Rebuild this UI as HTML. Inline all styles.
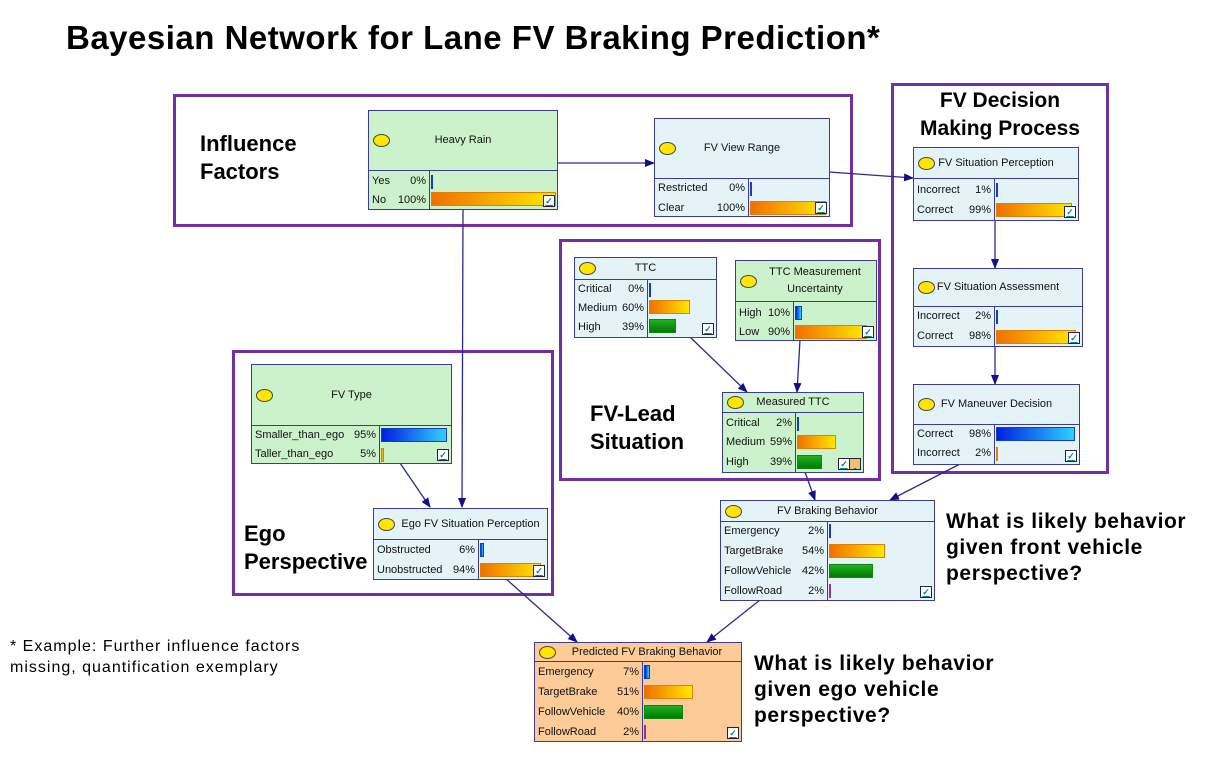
<!DOCTYPE html>
<html><head><meta charset="utf-8"><style>
body{margin:0;width:1215px;height:766px;background:#fff;position:relative;overflow:hidden;font-family:"Liberation Sans",sans-serif}
.t{position:absolute;font-weight:bold;color:#000}
.box{position:absolute;border:3px solid #7030a0;box-sizing:border-box}
.n{position:absolute;border:1.5px solid #3c3c96;box-sizing:border-box;font-size:11px;color:#111}
.g{background:#ccf2cc}.bl{background:#e3f3f8}.or{background:#fccb98}
.h{position:absolute;left:0;top:0;right:0;border-bottom:1.5px solid #3c3c96;display:flex;align-items:center;justify-content:center;text-align:center;line-height:17px}
.e{position:absolute;left:4px;width:15px;height:11px;border:1px solid #444;border-radius:50%;background:#ffe600}
.lc{position:absolute;left:0;bottom:0;border-right:1.5px solid #3c3c96}
.r{position:absolute;left:3px;height:14px;line-height:14px}
.r span{float:right}
.b{position:absolute;height:14px;box-sizing:border-box}
.o{background:linear-gradient(to right,#f07000,#ffe800);border:1px solid #e08000}
.gr{background:linear-gradient(to bottom,#20b020,#007a00);border:1px solid #0a8a0a}
.bb{background:linear-gradient(to right,#0020e0,#30d0ff);border:1px solid #1040c0}
.c{position:absolute;right:2px;bottom:2px;width:10px;height:10px;border:1px solid #224;background:#fff;font-size:9px;line-height:10px;text-align:center;color:#088;font-weight:bold}
</style></head><body>
<div class="t" style="left:66px;top:19px;font-size:33px;letter-spacing:0.5px">Bayesian Network for Lane FV Braking Prediction*</div>
<div class="box" style="left:173px;top:94px;width:680px;height:133px"></div>
<div class="box" style="left:891px;top:83px;width:218px;height:391px"></div>
<div class="box" style="left:559px;top:239px;width:322px;height:242px"></div>
<div class="box" style="left:232px;top:350px;width:322px;height:246px"></div>
<div class="t" style="left:200px;top:130px;font-size:22px;line-height:28px">Influence<br>Factors</div>
<div class="t" style="left:891px;top:87px;width:218px;text-align:center;font-size:21px;line-height:28px">FV Decision<br>Making Process</div>
<div class="t" style="left:590px;top:400px;font-size:22px;line-height:28px">FV-Lead<br>Situation</div>
<div class="t" style="left:244px;top:520px;font-size:22px;line-height:28px">Ego<br>Perspective</div>
<div class="t" style="left:946px;top:509px;font-size:21px;letter-spacing:0.6px;line-height:26px">What is likely behavior<br>given front vehicle<br>perspective?</div>
<div class="t" style="left:754px;top:651px;font-size:21px;letter-spacing:0.6px;line-height:26px">What is likely behavior<br>given ego vehicle<br>perspective?</div>
<div style="position:absolute;left:10px;top:636px;font-size:16px;letter-spacing:1px;line-height:21px">* Example: Further influence factors<br>missing, quantification exemplary</div>

<svg width="1215" height="766" style="position:absolute;left:0;top:0">
<defs><marker id="a" markerWidth="10" markerHeight="8" refX="9" refY="4" orient="auto" markerUnits="userSpaceOnUse"><path d="M0,0L10,4L0,8z" fill="#10108a"/></marker></defs>
<g stroke="#2a2a90" stroke-width="1.3" fill="none" marker-end="url(#a)">
<path d="M557,163 L654,163"/>
<path d="M829,172 L913,178"/>
<path d="M463,209 L462,507"/>
<path d="M400,463 L430,507"/>
<path d="M690,337 L747,392"/>
<path d="M800,340 L797,392"/>
<path d="M995,220 L995,268"/>
<path d="M995,346 L995,384"/>
<path d="M805,472 L815,500"/>
<path d="M960,464 L890,500"/>
<path d="M505,578 L577,642"/>
<path d="M760,600 L707,642"/>
</g></svg>

<div class="n g" style="left:368px;top:110px;width:190px;height:100px"><div class="h" style="height:59px"><i class="e"></i>Heavy Rain</div><div class="lc" style="top:59px;width:60px"></div>
<div class="r" style="top:63px;width:54px">Yes<span>0%</span></div><div class="r" style="top:82px;width:54px">No<span>100%</span></div>
<b class="b bb" style="left:62px;top:64px;width:2px"></b><b class="b o" style="left:62px;top:81px;width:125px"></b><u class="c">✓</u></div>

<div class="n bl" style="left:654px;top:118px;width:176px;height:99px"><div class="h" style="height:59px"><i class="e"></i>FV View Range</div><div class="lc" style="top:59px;width:93px"></div>
<div class="r" style="top:62px;width:87px">Restricted<span>0%</span></div><div class="r" style="top:82px;width:87px">Clear<span>100%</span></div>
<b class="b bb" style="left:95px;top:63px;width:2px"></b><b class="b o" style="left:95px;top:82px;width:76px"></b><u class="c">✓</u></div>

<div class="n bl" style="left:913px;top:147px;width:166px;height:74px"><div class="h" style="height:30px"><i class="e"></i>FV Situation Perception</div><div class="lc" style="top:30px;width:80px"></div>
<div class="r" style="top:35px;width:74px">Incorrect<span>1%</span></div><div class="r" style="top:55px;width:74px">Correct<span>99%</span></div>
<b class="b bb" style="left:82px;top:35px;width:2px"></b><b class="b o" style="left:82px;top:55px;width:76px"></b><u class="c">✓</u></div>

<div class="n bl" style="left:913px;top:268px;width:170px;height:79px"><div class="h" style="height:37px"><i class="e"></i>FV Situation Assessment</div><div class="lc" style="top:37px;width:80px"></div>
<div class="r" style="top:40px;width:74px">Incorrect<span>2%</span></div><div class="r" style="top:60px;width:74px">Correct<span>98%</span></div>
<b class="b bb" style="left:82px;top:41px;width:2px"></b><b class="b o" style="left:82px;top:61px;width:80px"></b><u class="c">✓</u></div>

<div class="n bl" style="left:913px;top:384px;width:167px;height:81px"><div class="h" style="height:39px"><i class="e"></i>FV Maneuver Decision</div><div class="lc" style="top:39px;width:80px"></div>
<div class="r" style="top:42px;width:74px">Correct<span>98%</span></div><div class="r" style="top:61px;width:74px">Incorrect<span>2%</span></div>
<b class="b bb" style="left:82px;top:42px;width:79px"></b><b class="b o" style="left:82px;top:62px;width:2px"></b><u class="c">✓</u></div>

<div class="n bl" style="left:574px;top:257px;width:143px;height:81px"><div class="h" style="height:21px"><i class="e"></i>TTC</div><div class="lc" style="top:21px;width:72px"></div>
<div class="r" style="top:24px;width:66px">Critical<span>0%</span></div><div class="r" style="top:43px;width:66px">Medium<span>60%</span></div><div class="r" style="top:62px;width:66px">High<span>39%</span></div>
<b class="b bb" style="left:74px;top:25px;width:2px"></b><b class="b o" style="left:74px;top:42px;width:41px"></b><b class="b gr" style="left:74px;top:61px;width:27px"></b><u class="c">✓</u></div>

<div class="n g" style="left:735px;top:260px;width:142px;height:81px"><div class="h" style="height:41px;padding-left:18px;box-sizing:border-box"><i class="e"></i>TTC Measurement<br>Uncertainty</div><div class="lc" style="top:41px;width:57px"></div>
<div class="r" style="top:45px;width:51px">High<span>10%</span></div><div class="r" style="top:64px;width:51px">Low<span>90%</span></div>
<b class="b bb" style="left:59px;top:45px;width:7px"></b><b class="b o" style="left:59px;top:64px;width:72px"></b><u class="c">✓</u></div>

<div class="n g" style="left:722px;top:392px;width:142px;height:81px"><div class="h" style="height:19px"><i class="e"></i>Measured TTC</div><div class="lc" style="top:19px;width:72px"></div>
<div class="r" style="top:23px;width:66px">Critical<span>2%</span></div><div class="r" style="top:42px;width:66px">Medium<span>59%</span></div><div class="r" style="top:62px;width:66px">High<span>39%</span></div>
<b class="b bb" style="left:74px;top:24px;width:2px"></b><b class="b o" style="left:74px;top:42px;width:39px"></b><b class="b gr" style="left:74px;top:62px;width:25px"></b><u class="c" style="right:13px">✓</u><u class="c" style="background:#f0c070">&nbsp;</u></div>

<div class="n g" style="left:251px;top:364px;width:201px;height:100px"><div class="h" style="height:60px"><i class="e"></i>FV Type</div><div class="lc" style="top:60px;width:127px"></div>
<div class="r" style="top:63px;width:121px">Smaller_than_ego<span>95%</span></div><div class="r" style="top:82px;width:121px">Taller_than_ego<span>5%</span></div>
<b class="b bb" style="left:129px;top:63px;width:66px"></b><b class="b o" style="left:129px;top:83px;width:3px"></b><u class="c">✓</u></div>

<div class="n bl" style="left:373px;top:508px;width:175px;height:72px"><div class="h" style="height:31px;padding-left:20px;box-sizing:border-box"><i class="e"></i>Ego FV Situation Perception</div><div class="lc" style="top:31px;width:104px"></div>
<div class="r" style="top:34px;width:98px">Obstructed<span>6%</span></div><div class="r" style="top:54px;width:98px">Unobstructed<span>94%</span></div>
<b class="b bb" style="left:106px;top:34px;width:4px"></b><b class="b o" style="left:106px;top:54px;width:61px"></b><u class="c">✓</u></div>

<div class="n bl" style="left:720px;top:500px;width:215px;height:101px"><div class="h" style="height:20px"><i class="e"></i>FV Braking Behavior</div><div class="lc" style="top:20px;width:106px"></div>
<div class="r" style="top:23px;width:100px">Emergency<span>2%</span></div><div class="r" style="top:43px;width:100px">TargetBrake<span>54%</span></div><div class="r" style="top:63px;width:100px">FollowVehicle<span>42%</span></div><div class="r" style="top:83px;width:100px">FollowRoad<span>2%</span></div>
<b class="b bb" style="left:108px;top:23px;width:2px"></b><b class="b o" style="left:108px;top:43px;width:56px"></b><b class="b gr" style="left:108px;top:63px;width:44px"></b><b class="b" style="left:108px;top:83px;width:2px;background:#a03080"></b><u class="c">✓</u></div>

<div class="n or" style="left:534px;top:642px;width:208px;height:100px"><div class="h" style="height:19px;padding-left:18px;box-sizing:border-box"><i class="e"></i>Predicted FV Braking Behavior</div><div class="lc" style="top:19px;width:107px"></div>
<div class="r" style="top:22px;width:101px">Emergency<span>7%</span></div><div class="r" style="top:42px;width:101px">TargetBrake<span>51%</span></div><div class="r" style="top:62px;width:101px">FollowVehicle<span>40%</span></div><div class="r" style="top:82px;width:101px">FollowRoad<span>2%</span></div>
<b class="b bb" style="left:109px;top:22px;width:6px"></b><b class="b o" style="left:109px;top:42px;width:49px"></b><b class="b gr" style="left:109px;top:62px;width:39px"></b><b class="b" style="left:109px;top:82px;width:2px;background:#a03080"></b><u class="c">✓</u></div>
</body></html>
